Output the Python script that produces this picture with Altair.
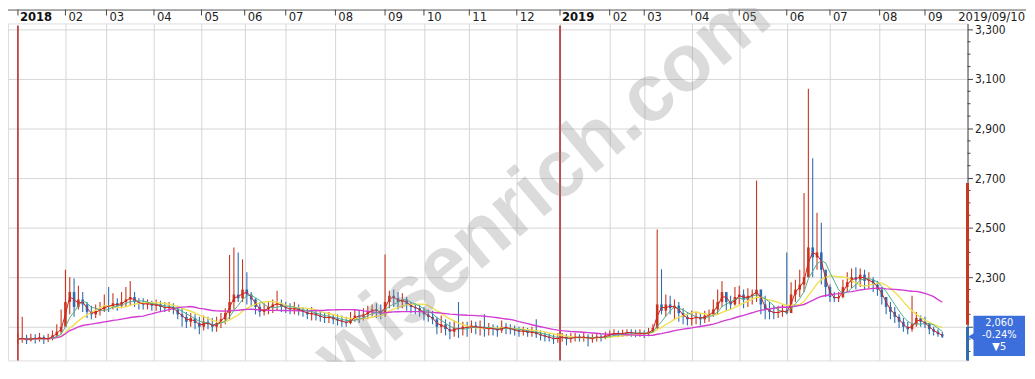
import altair as alt
import pandas as pd

# ---------------- data, one bar every 2 trading days ----------------
days = list(range(0, 430, 2))

close_ = [
    # days 0-20
    2050, 2055, 2045, 2055, 2050, 2058, 2048, 2055, 2065, 2080, 2100,
    # days 22-40
    2200, 2240, 2180, 2210, 2190, 2160, 2150, 2165, 2170, 2185,
    # days 42-62
    2180, 2195, 2185, 2200, 2210, 2220, 2200, 2195, 2190, 2195, 2185,
    # days 64-84
    2190, 2180, 2175, 2180, 2170, 2150, 2140, 2120, 2135, 2115, 2100,
    # days 86-104
    2120, 2110, 2100, 2115, 2130, 2155, 2200, 2230, 2215, 2250,
    # days 106-122
    2230, 2210, 2180, 2160, 2170, 2180, 2190, 2195, 2180,
    # days 124-146
    2175, 2170, 2175, 2165, 2160, 2150, 2155, 2145, 2140, 2135, 2140, 2130,
    # days 148-166
    2125, 2120, 2115, 2130, 2145, 2140, 2150, 2160, 2170, 2165,
    # days 168-184
    2150, 2200, 2225, 2215, 2200, 2210, 2190, 2180, 2175,
    # days 186-204
    2165, 2150, 2140, 2130, 2100, 2110, 2090, 2080, 2095, 2090,
    # days 206-228
    2100, 2095, 2105, 2095, 2100, 2090, 2095, 2090, 2085, 2100, 2095, 2090,
    # days 230-248
    2085, 2080, 2085, 2075, 2080, 2070, 2065, 2060, 2055, 2050,
    # days 250-270
    2055, 2060, 2050, 2055, 2060, 2055, 2060, 2050, 2055, 2060, 2055,
    # days 272-286
    2065, 2070, 2075, 2070, 2075, 2078, 2075, 2072,
    # days 288-308
    2075, 2070, 2080, 2095, 2190, 2165, 2190, 2175, 2185, 2155, 2140,
    # days 310-330
    2130, 2135, 2140, 2130, 2145, 2150, 2170, 2200, 2240, 2200, 2190,
    # days 332-352
    2220, 2230, 2210, 2225, 2230, 2250, 2190, 2170, 2160, 2155, 2160,
    # days 354-372
    2165, 2155, 2230, 2250, 2270, 2300, 2420, 2380, 2400, 2330,
    # days 374-394
    2260, 2220, 2215, 2220, 2260, 2280, 2300, 2290, 2310, 2285, 2290,
    # days 396-416
    2270, 2250, 2220, 2180, 2160, 2140, 2120, 2100, 2090, 2110, 2135,
    # days 418-428
    2120, 2110, 2090, 2080, 2070, 2060,
]

high_ = [
    2075, 2140, 2068, 2072, 2070, 2075, 2066, 2072, 2085, 2110, 2170,
    2330, 2300, 2295, 2265, 2240, 2200, 2185, 2190, 2200, 2230,
    2260, 2235, 2215, 2240, 2260, 2285, 2240, 2215, 2215, 2210, 2205,
    2210, 2205, 2200, 2200, 2195, 2185, 2175, 2160, 2155, 2150, 2140,
    2145, 2140, 2135, 2140, 2155, 2175, 2390, 2420, 2400, 2372,
    2320, 2240, 2215, 2200, 2195, 2200, 2210, 2245, 2210,
    2200, 2195, 2200, 2190, 2180, 2175, 2180, 2170, 2165, 2155, 2160, 2150,
    2150, 2145, 2140, 2160, 2170, 2165, 2175, 2185, 2190, 2195,
    2190, 2392, 2245, 2250, 2240, 2235, 2220, 2200, 2195,
    2190, 2180, 2170, 2165, 2140, 2145, 2130, 2120, 2125, 2200,
    2120, 2120, 2125, 2120, 2125, 2150, 2115, 2110, 2105, 2125, 2115, 2110,
    2105, 2100, 2100, 2095, 2100, 2130, 2085, 2080, 2075, 2070,
    2075, 2075, 2070, 2075, 2075, 2070, 2075, 2070, 2070, 2075, 2070,
    2080, 2085, 2090, 2085, 2088, 2090, 2090, 2088,
    2090, 2085, 2095, 2110, 2492, 2332, 2230, 2225, 2210, 2200, 2175,
    2160, 2165, 2160, 2155, 2165, 2170, 2210, 2250, 2285, 2240, 2225,
    2260, 2265, 2250, 2255, 2250, 2690, 2240, 2225, 2200, 2185, 2185,
    2190, 2400, 2280, 2290, 2330, 2640, 3060, 2780, 2560, 2520,
    2330, 2270, 2240, 2240, 2290, 2320, 2335, 2340, 2335, 2330, 2320,
    2300, 2285, 2260, 2220, 2200, 2180, 2150, 2135, 2120, 2225, 2160,
    2145, 2140, 2115, 2100, 2090, 2080,
]

low_ = [
    2030, 2035, 2030, 2040, 2032, 2040, 2030, 2038, 2045, 2055, 2070,
    2110, 2150, 2140, 2170, 2160, 2135, 2130, 2135, 2145, 2160,
    2160, 2170, 2165, 2175, 2180, 2185, 2180, 2170, 2170, 2170, 2165,
    2165, 2160, 2160, 2160, 2150, 2130, 2100, 2095, 2100, 2090, 2070,
    2085, 2090, 2080, 2080, 2095, 2110, 2130, 2170, 2200, 2200,
    2190, 2180, 2150, 2140, 2145, 2150, 2155, 2165, 2160,
    2155, 2150, 2150, 2145, 2140, 2130, 2125, 2125, 2120, 2115, 2115, 2110,
    2105, 2100, 2100, 2110, 2120, 2115, 2125, 2130, 2140, 2135,
    2130, 2140, 2175, 2180, 2170, 2175, 2165, 2155, 2150,
    2140, 2125, 2120, 2110, 2070, 2075, 2065, 2050, 2060, 2055,
    2065, 2060, 2075, 2070, 2065, 2060, 2065, 2065, 2060, 2075, 2070, 2070,
    2065, 2060, 2065, 2060, 2060, 2055, 2045, 2040, 2040, 2030,
    2035, 2040, 2025, 2035, 2040, 2040, 2040, 2020, 2035, 2040, 2040,
    2050, 2055, 2060, 2058, 2060, 2062, 2060, 2058,
    2060, 2055, 2062, 2075, 2090, 2150, 2140, 2150, 2130, 2120, 2110,
    2105, 2105, 2110, 2105, 2115, 2120, 2140, 2150, 2180, 2165, 2170,
    2185, 2190, 2175, 2180, 2190, 2200, 2150, 2130, 2130, 2130, 2135,
    2140, 2150, 2185, 2200, 2220, 2240, 2300, 2300, 2330, 2270,
    2220, 2200, 2200, 2200, 2215, 2240, 2255, 2250, 2260, 2250, 2255,
    2240, 2225, 2190, 2150, 2130, 2115, 2095, 2080, 2070, 2080, 2100,
    2100, 2095, 2070, 2065, 2060, 2055,
]

month_days = [0, 22, 41, 63, 85, 105, 124, 147, 170, 188, 209, 231, 251, 274, 290, 312, 334, 356, 376, 399, 420]
month_labels = ["2018", "02", "03", "04", "05", "06", "07", "08", "09", "10", "11", "12",
                "2019", "02", "03", "04", "05", "06", "07", "08", "09"]
year_days = [0, 251]
date_label = "2019/09/10"
y_ticks = [2100, 2300, 2500, 2700, 2900, 3100, 3300]
minor_ticks = [v for v in range(2000, 3330, 50) if v % 200 != 100]
last_price_lines = ["2,060", "-0.24%", "▼5"]
last_price = 2060
watermark = "wisenrich.com"

# moving-average windows in trading days (bars are every 2 days)
ma_days = {"ma5": 5, "ma10": 10, "ma20": 20, "ma60": 60}

# ---------------- styling ----------------
W, H = 968, 340
UP, DOWN = "#c8341c", "#2d6cb0"
FONT = "Liberation Sans Narrow, DejaVu Sans Condensed, Arial Narrow, sans-serif"
BOX = "#3d6fdc"

assert len(close_) == len(high_) == len(low_) == len(days)

open_ = [close_[0]] + close_[:-1]
df = pd.DataFrame({"day": days, "open": open_, "high": high_, "low": low_, "close": close_})
df["high"] = df[["high", "open", "close"]].max(axis=1)
df["low"] = df[["low", "open", "close"]].min(axis=1)
df["dir"] = ["up" if c >= o else "down" for o, c in zip(df["open"], df["close"])]

xscale = alt.Scale(domain=[-2.3, 437.4], nice=False, zero=False)
yscale = alt.Scale(domain=[1964, 3324], nice=False, zero=False)
xaxis = alt.Axis(orient="top", values=month_days[1:], grid=True, gridColor="#d6d6d6",
                 labels=False, ticks=False, domain=False, title=None)
yaxis = alt.Axis(orient="right", values=y_ticks, format=",d", grid=True, gridColor="#d6d6d6",
                 tickSize=5, tickColor="#444", domainColor="#444", labelFont=FONT,
                 labelFontSize=12, labelColor="#222", labelPadding=2, title=None,
                 labelExpr="datum.value == 2100 ? '' : datum.label")

X = alt.X("day:Q", scale=xscale, axis=xaxis)


def Y(f):
    return alt.Y(f, scale=yscale, axis=yaxis)


color = alt.Color("dir:N", scale=alt.Scale(domain=["up", "down"], range=[UP, DOWN]), legend=None)

base = alt.Chart(df)

wick = base.mark_rule(strokeWidth=1.1).encode(x=X, y=Y("low:Q"), y2="high:Q", color=color)
body = base.mark_bar(size=2.6).encode(x=X, y=Y("open:Q"), y2="close:Q", color=color)


def ma(ndays, col, width):
    nbars = max(1, round(ndays / 2))
    return (base.transform_window(ma="mean(close)", frame=[-(nbars - 1), 0],
                                  sort=[alt.SortField("day", order="ascending")])
            .mark_line(color=col, strokeWidth=width)
            .encode(x=X, y=Y("ma:Q")))


ma5 = ma(ma_days["ma5"], "#d42020", 1)
ma10 = ma(ma_days["ma10"], "#4fae8c", 1)
ma20 = ma(ma_days["ma20"], "#f0e050", 1.4)
ma60 = ma(ma_days["ma60"], "#d23cd2", 1.4)

months = pd.DataFrame({"day": month_days, "label": month_labels,
                       "year": [lab.startswith("20") for lab in month_labels]})
mchart = alt.Chart(months)
top_ticks = mchart.mark_rule(color="#444", strokeWidth=1).encode(
    x=X, y=alt.value(-14), y2=alt.value(-8))
top_labels = mchart.transform_filter("!datum.year").mark_text(
    align="left", baseline="middle", dx=3, font=FONT, fontSize=13, color="#222").encode(
    x=X, y=alt.value(-6), text="label:N")
top_years = mchart.transform_filter("datum.year").mark_text(
    align="left", baseline="middle", dx=2, font=FONT, fontSize=13, fontWeight="bold",
    color="#111").encode(x=X, y=alt.value(-6), text="label:N")

years = pd.DataFrame({"day": year_days})
year_lines = alt.Chart(years).mark_rule(color="#b01e1e", strokeWidth=1.5).encode(
    x=X, y=alt.value(2), y2=alt.value(H))

one = alt.Chart(pd.DataFrame({"a": [0]}))
top_border = one.mark_rule(color="#555").encode(
    x=alt.value(0), x2=alt.value(W + 59), y=alt.value(-13.5))
date_text = one.mark_text(align="right", baseline="middle", font=FONT, fontSize=13,
                          color="#222").encode(
    x=alt.value(W + 58), y=alt.value(-6), text=alt.value(date_label))

minor = alt.Chart(pd.DataFrame({"v": minor_ticks})).mark_rule(color="#444").encode(
    x=alt.value(W), x2=alt.value(W + 3), y=Y("v:Q"))

red_ind = one.mark_rule(color=UP, strokeWidth=3).encode(
    x=alt.value(W), y=alt.datum(2680), y2=alt.datum(2108))
blue_ind = one.mark_rule(color=DOWN, strokeWidth=3).encode(
    x=alt.value(W), y=alt.datum(2100), y2=alt.datum(1964))

box = one.mark_rect(color=BOX).encode(
    x=alt.value(W + 6), x2=alt.value(W + 58), y=alt.datum(2144), y2=alt.datum(1982))
pointer = one.mark_point(shape="triangle-left", filled=True, size=70, color=BOX, opacity=1).encode(
    x=alt.value(W + 4), y=alt.datum(last_price))
box_df = pd.DataFrame({"t": last_price_lines, "p": [2114, 2066, 2018]})
box_text = alt.Chart(box_df).mark_text(align="center", baseline="middle", font=FONT,
                                       fontSize=11, color="white").encode(
    x=alt.value(W + 32), y=Y("p:Q"), text="t:N")

wm = one.mark_text(text=watermark, angle=320, fontSize=82, fontWeight="bold",
                   font="Liberation Sans, Arial, sans-serif", color="#8c8c8c",
                   opacity=0.3, align="center", baseline="middle").encode(
    x=alt.datum(243), y=alt.datum(2672))

chart = alt.layer(
    year_lines, wick, body, ma20, ma60, ma10, ma5,
    top_ticks, top_labels, top_years, top_border, date_text,
    minor, red_ind, blue_ind, box, pointer, box_text, wm,
).properties(
    width=W, height=H,
    autosize=alt.AutoSizeParams(type="none"),
    padding={"top": 14, "left": 0, "right": 60, "bottom": 0},
).configure_view(stroke="#777", strokeWidth=1).configure(background="white")

chart.save("out.html", embed_options={"renderer": "svg", "actions": False})
